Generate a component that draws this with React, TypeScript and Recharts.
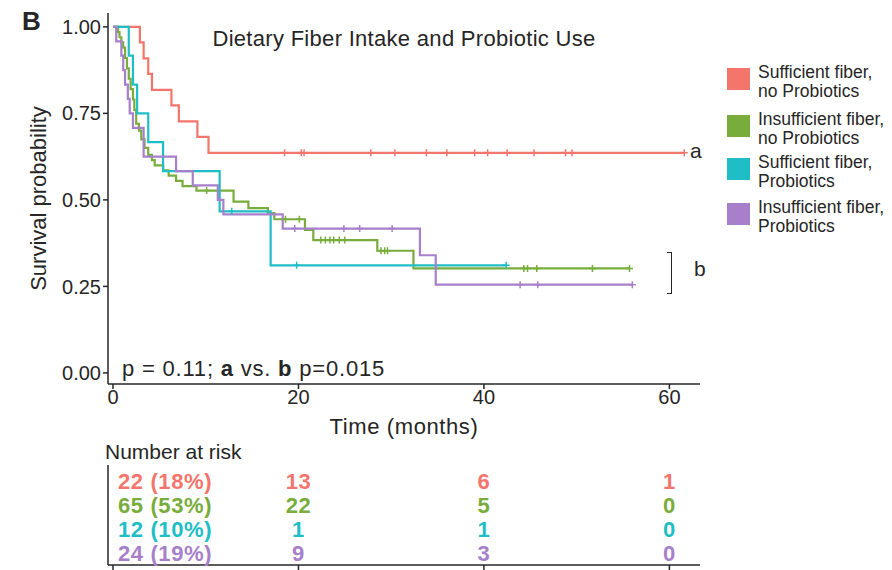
import React from "react";
import { LineChart, Line, XAxis, YAxis, ScatterChart, Scatter } from "recharts";

const FONT = "'Liberation Sans', Arial, Helvetica, sans-serif";
const INK = "#262626";

const groupNames = [
  ["Sufficient fiber,", "no Probiotics"],
  ["Insufficient fiber,", "no Probiotics"],
  ["Sufficient fiber,", "Probiotics"],
  ["Insufficient fiber,", "Probiotics"],
];
const groupColors = ["#F4756C", "#78AD3C", "#1FBEC6", "#A77FCB"];

// Kaplan-Meier steps: event time (months) and survival after the step
const redTimes = [0, 2.9, 3.3, 3.8, 4.2, 6.3, 7.1, 9.1, 10.3];
const redSurv = [1, 0.955, 0.909, 0.864, 0.818, 0.773, 0.727, 0.682, 0.636];
const redCensor = [18.5, 20.3, 20.6, 27.8, 30.4, 33.8, 36.0, 39.0, 40.4, 42.5, 45.4, 48.8, 49.5, 61.6];

const greenTimes = [0, 0.55, 0.7, 0.9, 1.1, 1.3, 1.5, 1.7, 1.9, 2.15, 2.3, 2.5, 2.8, 3.05, 3.4, 3.8, 4.2, 4.5, 5.4, 6.0, 6.8, 7.5, 9.0, 13.0, 14.6, 16.7, 17.4, 20.7, 21.6, 28.5, 32.4];
const greenSurv = [1, 0.985, 0.97, 0.955, 0.94, 0.91, 0.88, 0.85, 0.82, 0.79, 0.76, 0.72, 0.7, 0.675, 0.65, 0.63, 0.615, 0.6, 0.585, 0.57, 0.555, 0.54, 0.527, 0.495, 0.476, 0.462, 0.444, 0.413, 0.384, 0.353, 0.302];
const greenCensor = [10.1, 18.6, 20.1, 22.4, 22.9, 23.4, 23.8, 24.4, 25.0, 28.9, 29.3, 29.6, 44.3, 44.7, 45.7, 51.7, 55.7];

const tealTimes = [0, 1.7, 2.15, 2.6, 3.8, 5.4, 11.5, 17.0];
const tealSurv = [1, 0.917, 0.833, 0.75, 0.667, 0.583, 0.467, 0.311];
const tealCensor = [12.8, 19.8, 42.4];

const purpleTimes = [0, 0.35, 0.9, 1.1, 1.3, 1.6, 1.8, 2.15, 3.3, 6.8, 8.6, 11.3, 11.9, 18.3, 33.1, 34.8];
const purpleSurv = [1, 0.958, 0.917, 0.875, 0.833, 0.792, 0.75, 0.708, 0.625, 0.583, 0.542, 0.5, 0.458, 0.417, 0.34, 0.255];
const purpleCensor = [19.6, 24.9, 26.6, 30.1, 43.9, 45.8, 56.0];

const xTicks = [0, 20, 40, 60];
const yTicks = [0, 0.25, 0.5, 0.75, 1];

// number at risk table
const riskTimes = [0, 20, 40, 60];
const riskRed = ["22 (18%)", "13", "6", "1"];
const riskGreen = ["65 (53%)", "22", "5", "0"];
const riskTeal = ["12 (10%)", "1", "1", "0"];
const riskPurple = ["24 (19%)", "9", "3", "0"];

function buildCurve(times: number[], surv: number[], censor: number[]) {
  const pts = times.map((t, i) => ({ t, s: surv[i], c: false }));
  censor.forEach((ct) => {
    let s = 1;
    times.forEach((t, i) => {
      if (t <= ct) s = surv[i];
    });
    pts.push({ t: ct, s, c: true });
  });
  pts.sort((a, b) => a.t - b.t);
  return pts;
}

const curves = [
  buildCurve(redTimes, redSurv, redCensor),
  buildCurve(greenTimes, greenSurv, greenCensor),
  buildCurve(tealTimes, tealSurv, tealCensor),
  buildCurve(purpleTimes, purpleSurv, purpleCensor),
];

const riskRows = [riskRed, riskGreen, riskTeal, riskPurple].map((row, r) =>
  riskTimes.map((t, i) => ({ t, row: r + 1, label: row[i] }))
);

const X_DOMAIN = [-0.54, 63.3];

const censorDot = (color: string) => (props: any) => {
  const { cx, cy, payload, index } = props;
  if (!payload || !payload.c) return <g key={`n-${index}`} />;
  return (
    <path
      key={`c-${index}`}
      d={`M${cx - 3.5},${cy}h7M${cx},${cy - 3.5}v7`}
      stroke={color}
      strokeWidth={1.5}
      fill="none"
    />
  );
};

const riskLabel = (color: string) => (props: any) => {
  const { cx, cy, payload } = props;
  const first = payload.t === 0;
  return (
    <text
      x={first ? cx + 5 : cx}
      y={cy}
      textAnchor={first ? "start" : "middle"}
      dominantBaseline="central"
      fill={color}
      fontSize={22}
      fontWeight="bold"
      fontFamily={FONT}
      letterSpacing={0.6}
    >
      {payload.label}
    </text>
  );
};

const tickStyle = { fontSize: 20, fill: INK, fontFamily: FONT };

export default function App() {
  return (
    <div
      style={{
        position: "absolute",
        left: 0,
        top: 0,
        width: 892,
        height: 570,
        background: "#fff",
        fontFamily: FONT,
        color: INK,
      }}
    >
      <div style={{ position: "absolute", left: 0, top: 0 }}>
        <LineChart
          width={892}
          height={440}
          margin={{ top: 13, right: 192, bottom: 6, left: 28 }}
        >
          <XAxis
            dataKey="t"
            type="number"
            domain={X_DOMAIN}
            ticks={xTicks}
            allowDataOverflow
            height={50}
            tickSize={5}
            tickMargin={1}
            tick={tickStyle}
            stroke={INK}
            strokeWidth={1.5}
            label={{
              value: "Time (months)",
              position: "insideBottom",
              offset: 0,
              style: { fontSize: 22, fill: INK, fontFamily: FONT, letterSpacing: 0.6 },
            }}
          />
          <YAxis
            type="number"
            domain={[-0.032, 1.04]}
            ticks={yTicks}
            allowDataOverflow
            width={80}
            tickSize={5}
            tickMargin={2}
            tick={tickStyle}
            tickFormatter={(v: number) => v.toFixed(2)}
            stroke={INK}
            strokeWidth={1.5}
            label={{
              value: "Survival probability",
              angle: -90,
              position: "insideLeft",
              offset: 10,
              style: { fontSize: 22, fill: INK, fontFamily: FONT, textAnchor: "middle" },
            }}
          />
          {curves.map((data, i) => (
            <Line
              key={i}
              data={data}
              dataKey="s"
              type="stepAfter"
              stroke={groupColors[i]}
              strokeWidth={2.2}
              dot={censorDot(groupColors[i])}
              activeDot={false}
              isAnimationActive={false}
            />
          ))}
        </LineChart>
      </div>

      <div style={{ position: "absolute", left: 0, top: 440 }}>
        <ScatterChart
          width={892}
          height={130}
          margin={{ top: 25, right: 192, bottom: 0, left: 28 }}
        >
          <XAxis
            dataKey="t"
            type="number"
            domain={X_DOMAIN}
            ticks={xTicks}
            allowDataOverflow
            height={5}
            tickSize={5}
            tickFormatter={() => ""}
            stroke={INK}
            strokeWidth={1.5}
          />
          <YAxis
            dataKey="row"
            type="number"
            domain={[0.33, 4.5]}
            reversed
            width={80}
            tick={false}
            tickLine={false}
            stroke={INK}
            strokeWidth={1.5}
          />
          {riskRows.map((data, i) => (
            <Scatter
              key={i}
              data={data}
              shape={riskLabel(groupColors[i])}
              isAnimationActive={false}
            />
          ))}
        </ScatterChart>
      </div>

      <div style={{ position: "absolute", left: 22, top: 6, fontSize: 26, fontWeight: "bold" }}>B</div>
      <div
        style={{
          position: "absolute",
          left: 108,
          width: 592,
          top: 26,
          textAlign: "center",
          fontSize: 22,
          letterSpacing: 0.3,
        }}
      >
        Dietary Fiber Intake and Probiotic Use
      </div>
      <div
        style={{
          position: "absolute",
          left: 122,
          top: 356,
          fontSize: 22,
          letterSpacing: 0.8,
          whiteSpace: "nowrap",
        }}
      >
        p = 0.11; <b>a</b> vs. <b>b</b> p=0.015
      </div>
      <div style={{ position: "absolute", left: 690, top: 139, fontSize: 21 }}>a</div>
      <div
        style={{
          position: "absolute",
          left: 667,
          top: 252,
          width: 4,
          height: 40,
          borderTop: `1.5px solid ${INK}`,
          borderBottom: `1.5px solid ${INK}`,
          borderRight: `1.5px solid ${INK}`,
        }}
      />
      <div style={{ position: "absolute", left: 694, top: 257, fontSize: 21 }}>b</div>
      <div style={{ position: "absolute", left: 105, top: 440, fontSize: 21, whiteSpace: "nowrap" }}>
        Number at risk
      </div>

      {groupNames.map((lines, i) => {
        const tops = [68, 115, 158, 203];
        return (
          <div key={i}>
            <div
              style={{
                position: "absolute",
                left: 727,
                top: tops[i],
                width: 23,
                height: 22,
                background: groupColors[i],
              }}
            />
            <div
              style={{
                position: "absolute",
                left: 758,
                top: tops[i] - 5,
                fontSize: 17.5,
                lineHeight: "18.5px",
                whiteSpace: "nowrap",
              }}
            >
              {lines[0]}
              <br />
              {lines[1]}
            </div>
          </div>
        );
      })}
    </div>
  );
}
